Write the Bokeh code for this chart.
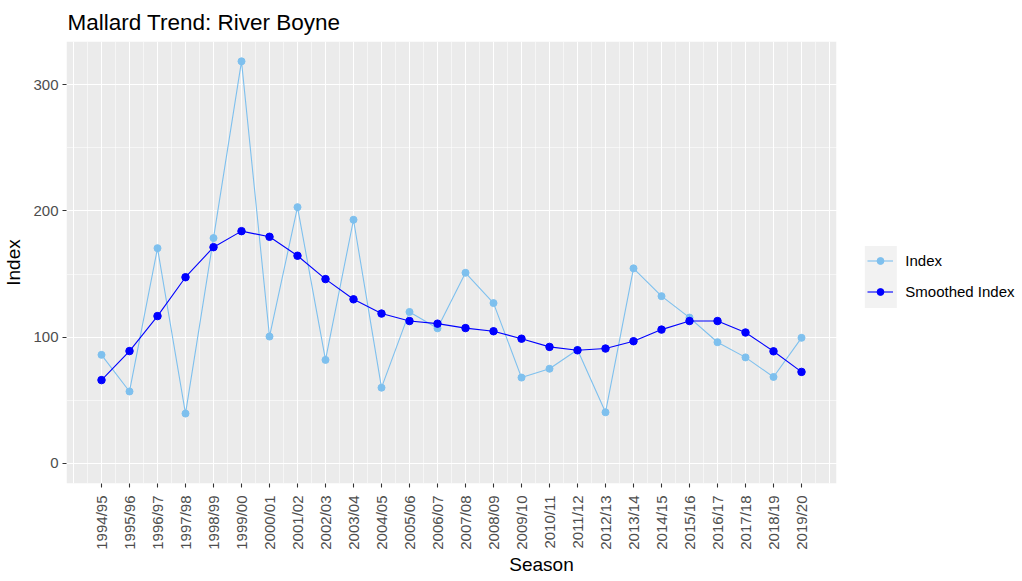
import math
from bokeh.plotting import figure
from bokeh.models import (Range1d, FixedTicker, Legend, LegendItem, BoxAnnotation)
from bokeh.embed import file_html
from bokeh.resources import INLINE

seasons = ["1994/95", "1995/96", "1996/97", "1997/98", "1998/99", "1999/00",
           "2000/01", "2001/02", "2002/03", "2003/04", "2004/05", "2005/06",
           "2006/07", "2007/08", "2008/09", "2009/10", "2010/11", "2011/12",
           "2012/13", "2013/14", "2014/15", "2015/16", "2016/17", "2017/18",
           "2018/19", "2019/20"]
index_vals = [86, 57, 170.5, 39.5, 178.5, 318.5, 100.5, 203, 82, 193, 60, 120,
              107, 151, 127, 68, 75, 90, 40.5, 154.5, 132.5, 115.5, 96, 84,
              68.5, 99.5]
smoothed_vals = [66, 89, 116.7, 147.5, 171.3, 184, 179.5, 164.5, 146, 130,
                 118.7, 112.8, 110.7, 107.2, 104.7, 98.8, 92.3, 89.6, 91, 96.8,
                 106, 112.8, 112.8, 103.7, 88.8, 72.5]
y_ticks = [0, 100, 200, 300]
y_minor = [50, 150, 250]

xs = list(range(len(seasons)))
FONT = "Liberation Sans"
LIGHT = "#7EC0EE"
DARK = "#0000FF"

# panel extent in data units (ggplot-like 5% expansion)
n = len(seasons)
x_lo, x_hi = -1.25, n - 1 + 1.25
y_lo, y_hi = -15.9, 334.2
PANEL_W = 770
FRAME_W = 950
x_end = x_lo + (x_hi - x_lo) * FRAME_W / PANEL_W

p = figure(width=60 + FRAME_W, height=579, frame_width=FRAME_W, frame_height=442,
           min_border_left=60, min_border_right=0, min_border_top=41,
           min_border_bottom=96, output_backend="svg", toolbar_location=None,
           x_range=Range1d(x_lo, x_end), y_range=Range1d(y_lo, y_hi),
           title="Mallard Trend: River Boyne")

p.background_fill_color = "white"
p.border_fill_color = "white"
p.outline_line_color = None

p.title.text_font = FONT
p.title.text_font_size = "22.5px"
p.title.text_font_style = "normal"
p.title.text_color = "black"
p.title.align = "left"
p.title.vertical_align = "top"
p.title.offset = 1
p.title.standoff = 10

# panel background (below grid)
p.quad(left=[x_lo], right=[x_hi], bottom=[y_lo], top=[y_hi],
       fill_color="#EBEBEB", line_color=None, level="image")

# grids
p.xgrid.ticker = FixedTicker(ticks=list(range(-1, n + 1)),
                             minor_ticks=[i + 0.5 for i in range(-1, n)])
p.ygrid.ticker = FixedTicker(ticks=y_ticks, minor_ticks=y_minor)
for g in (p.xgrid, p.ygrid):
    g.grid_line_color = "white"
    g.grid_line_width = 1.1
    g.minor_grid_line_color = "white"
    g.minor_grid_line_width = 0.55

# white cover right of the panel (hides grid lines there)
p.quad(left=[x_hi], right=[x_end + 1], bottom=[y_lo - 5], top=[y_hi + 5],
       fill_color="white", line_color=None)

# axes
p.xaxis.ticker = FixedTicker(ticks=xs, minor_ticks=[])
p.xaxis.major_label_overrides = {i: s for i, s in enumerate(seasons)}
p.xaxis.major_label_orientation = math.pi / 2
p.yaxis.ticker = FixedTicker(ticks=y_ticks, minor_ticks=[])
for ax in (p.xaxis, p.yaxis):
    ax.axis_line_color = None
    ax.major_tick_line_color = "#333333"
    ax.major_tick_line_width = 1.1
    ax.major_tick_out = 4
    ax.major_tick_in = 0
    ax.minor_tick_line_color = None
    ax.major_label_text_font = FONT
    ax.major_label_text_font_size = "15px"
    ax.major_label_text_color = "#4D4D4D"
    ax.axis_label_text_font = FONT
    ax.axis_label_text_font_size = "19px"
    ax.axis_label_text_font_style = "normal"
    ax.axis_label_text_color = "black"
p.xaxis.axis_label = "Season"
p.yaxis.axis_label = "Index"
p.xaxis.major_label_standoff = 8
p.yaxis.major_label_standoff = 4
p.xaxis.axis_label_standoff = 1
p.yaxis.axis_label_standoff = 6

# series
l1 = p.line(xs, index_vals, line_color=LIGHT, line_width=1.1)
s1 = p.scatter(xs, index_vals, size=7, fill_color=LIGHT, line_color=LIGHT)
l2 = p.line(xs, smoothed_vals, line_color=DARK, line_width=1.1)
s2 = p.scatter(xs, smoothed_vals, size=7.5, fill_color=DARK, line_color=DARK)

# legend key background
key_bg = BoxAnnotation(left=798.3, right=830.3, bottom=175.6, top=237.6,
                       left_units="screen", right_units="screen",
                       bottom_units="screen", top_units="screen",
                       fill_color="#F2F2F2", fill_alpha=1.0, line_color=None)
p.add_layout(key_bg)

legend = Legend(items=[LegendItem(label="Index", renderers=[l1, s1]),
                       LegendItem(label="Smoothed Index", renderers=[l2, s2])],
                location=(801.3, 182.6), glyph_width=26, glyph_height=17,
                label_height=17, spacing=14, padding=0, margin=0,
                label_standoff=12, label_text_font=FONT,
                label_text_font_size="15px", label_text_color="black",
                background_fill_alpha=0, border_line_alpha=0)
p.add_layout(legend, "center")

open("out.html", "w").write(file_html(p, INLINE))
